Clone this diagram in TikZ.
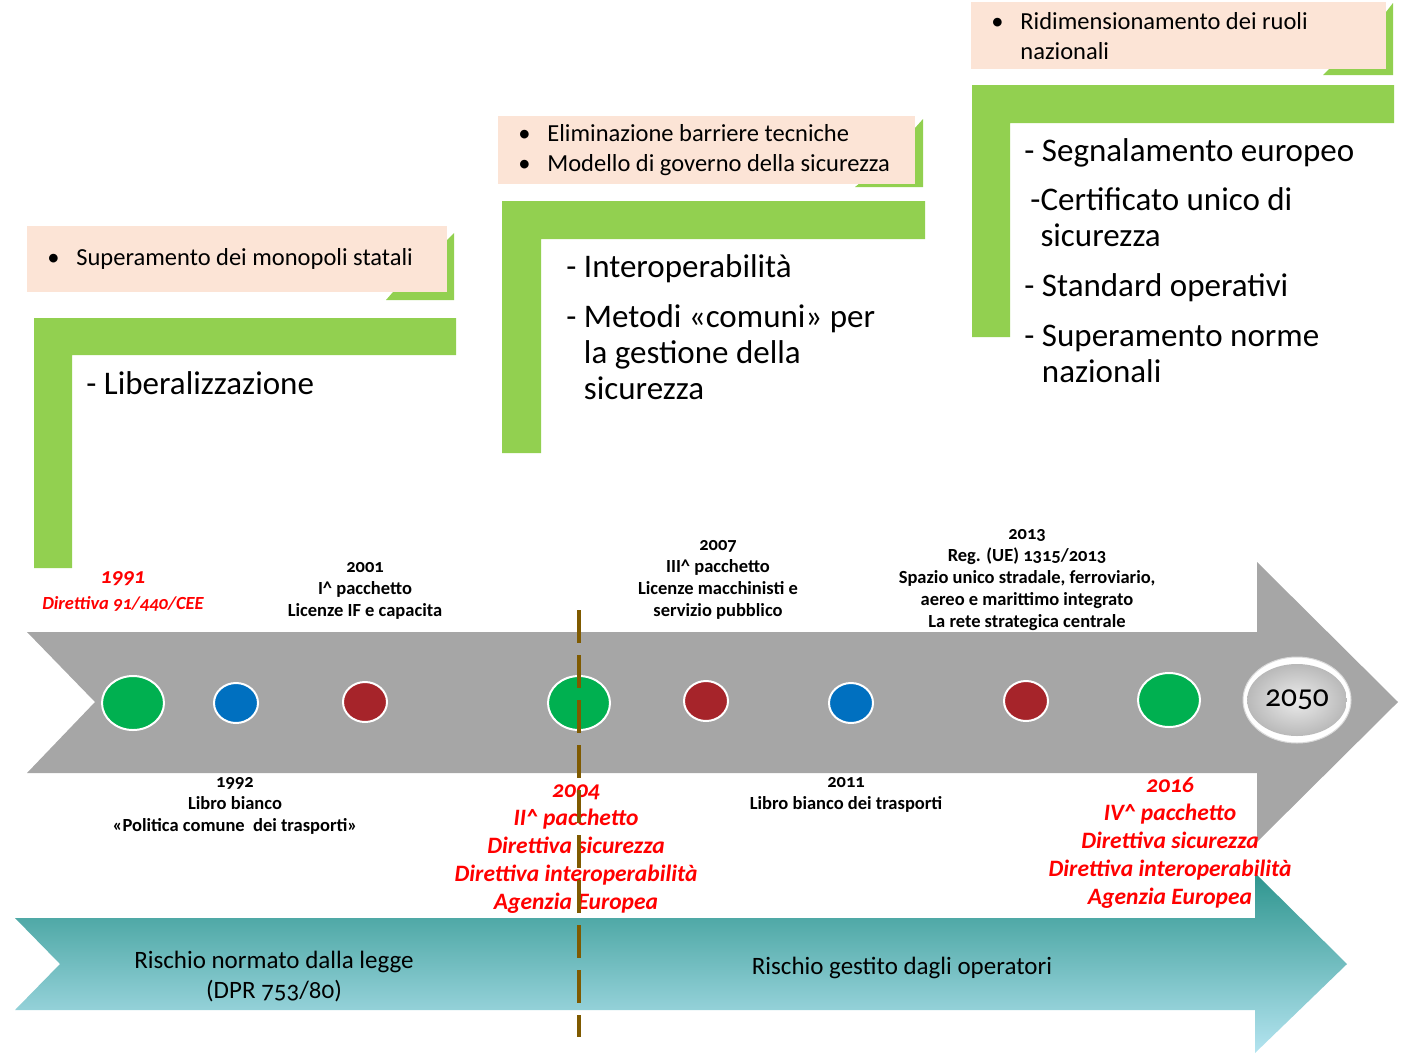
\documentclass[tikz,border=0pt]{standalone}
\usepackage{fontspec}
\setmainfont{Carlito}[Numbers=OldStyle]
\usepackage{tikz}
\usetikzlibrary{positioning,shapes.geometric}
\definecolor{lgreen}{HTML}{92D050}
\definecolor{peach}{HTML}{FCE4D6}
\definecolor{dgreen}{HTML}{00B050}
\definecolor{dblue}{HTML}{0070C0}
\definecolor{dred}{HTML}{A6242A}
\definecolor{tgray}{HTML}{A6A6A6}
\definecolor{tealtop}{HTML}{2E958E}
\definecolor{tealbot}{HTML}{B4E4F0}
\definecolor{dashbrown}{HTML}{7F5A00}
\tikzset{every picture/.style={line width=0.8pt}}
\tikzset{
  milestone/.style={ellipse, draw=white, line width=2pt, inner sep=0pt},
  bigdot/.style={milestone, fill=dgreen, minimum width=62pt, minimum height=54pt},
  smalldot/.style={milestone, minimum width=44pt, minimum height=40pt},
  evt/.style={font=\bfseries\fontsize{18.5}{22}\selectfont, align=center, inner sep=0pt},
  keyevt/.style={font=\bfseries\itshape\fontsize{23.5}{28}\selectfont, text=red, align=center, inner sep=0pt},
  peachbox/.style={fill=peach, anchor=north west, inner sep=0pt},
  boxtxt/.style={anchor=west, inner sep=0pt, align=left, font=\fontsize{24.5}{30}\selectfont},
  bigtxt/.style={anchor=north west, inner sep=0pt, align=left, font=\fontsize{33}{36}\selectfont},
  risk/.style={align=center, inner sep=0pt, font=\fontsize{25}{30}\selectfont}
}
\newcommand{\bul}{\makebox[29pt][l]{\textbullet}}
\begin{document}
\begin{tikzpicture}[x=1pt, y=-1pt]
    \useasboundingbox (0,0) rectangle (1405,1053);

    % green L frames
    \fill[lgreen] (34,318) -- (456,318) -- (456,355) -- (72,355) -- (72,568) -- (34,568) -- cycle;
    \fill[lgreen] (502,201) -- (925,201) -- (925,239) -- (541,239) -- (541,453) -- (502,453) -- cycle;
    \fill[lgreen] (972,85) -- (1394,85) -- (1394,123) -- (1010,123) -- (1010,337) -- (972,337) -- cycle;

    % box shadows
    \fill[lgreen] (454,233) -- (454,300) -- (386,300) -- (393,292) -- (447,292) -- (447,240) -- cycle;
    \fill[lgreen] (923,119) -- (923,187) -- (855,187) -- (860,183) -- (915,183) -- (915,128) -- cycle;
    \fill[lgreen] (1393,3) -- (1393,75) -- (1323,75) -- (1329,69) -- (1386,69) -- (1386,12) -- cycle;

    % bullet boxes
    \node[peachbox, minimum width=420pt, minimum height=66pt] (box1) at (27,226) {};
    \node[peachbox, minimum width=417pt, minimum height=68pt] (box2) at (498,116) {};
    \node[peachbox, minimum width=415pt, minimum height=67pt] (box3) at (971,2) {};
    \node[boxtxt, right=20pt of box1.west] (monopoli) {\bul Superamento dei monopoli statali};
    \node[boxtxt, right=20pt of box2.west] (barriere)
        {\bul Eliminazione barriere tecniche\\ \bul Modello di governo della sicurezza};
    \node[boxtxt, right=20pt of box3.west] (ruoli)
        {\bul Ridimensionamento dei ruoli\\ \hspace*{29pt}nazionali};

    % texts in the frames
    \node[bigtxt] (lib) at (86,371) {- Liberalizzazione};
    \node[bigtxt] (interop) at (566,254)
        {- Interoperabilità\\[14pt]
         - Metodi «comuni» per\\ \phantom{- }la gestione della\\ \phantom{- }sicurezza};
    \node[bigtxt] (segn) at (1024,138)
        {- Segnalamento europeo\\[13pt]
         \hspace*{6pt}-Certificato unico di\\ \hspace*{6pt}\phantom{-}sicurezza\\[14pt]
         - Standard operativi\\[14pt]
         - Superamento norme\\ \phantom{- }nazionali};

    % timeline arrow
    \fill[tgray] (27,632) -- (1257,632) -- (1257,562) -- (1398,702) -- (1257,842)
        -- (1257,773) -- (27,773) -- (95,702) -- cycle;

    % risk arrow
    \shade[top color=tealtop, bottom color=tealbot] (15,918) -- (1255,918) -- (1255,873)
        -- (1347,964) -- (1255,1053) -- (1255,1010) -- (15,1010) -- (60,964) -- cycle;
    \node[risk] (normato) at (274,977) {Rischio normato dalla legge\\(DPR 753/80)};
    \node[risk] (gestito) at (902,968) {Rischio gestito dagli operatori};

    % milestones
    \node[bigdot] (m1991) at (133,703) {};
    \node[smalldot, fill=dblue] (m1992) at (236,703) {};
    \node[smalldot, fill=dred] (m2001) at (365,702) {};
    \node[bigdot] (m2004) at (579,703) {};
    \node[smalldot, fill=dred] (m2007) at (706,701) {};
    \node[smalldot, fill=dblue] (m2011) at (851,703) {};
    \node[smalldot, fill=dred] (m2013) at (1026,701) {};
    \node[bigdot] (m2016) at (1169,700) {};

    % 2050
    \node[ellipse, fill=white, draw=black!15, line width=1pt, minimum width=108pt, minimum height=86pt] (m2050) at (1297,700) {};
    \node[ellipse, inner color=gray!15, outer color=gray!55, minimum width=94pt, minimum height=72pt,
        font=\fontsize{31.5}{32}\selectfont] (y2050) at (1297,700) {2050};

    % events above
    \node[keyevt] (e1991) at (123,591)
        {{\fontsize{22}{22}\selectfont 1991}\\[-2pt]{\fontsize{18.5}{20}\selectfont Direttiva 91/440/CEE}};
    \node[evt] (e2001) at (365,591) {2001\\I\^{} pacchetto\\Licenze IF e capacita};
    \node[evt] (e2007) at (718,580) {2007\\III\^{} pacchetto\\Licenze macchinisti e\\servizio pubblico};
    \node[evt] (e2013) at (1027,580)
        {2013\\Reg. (UE) 1315/2013\\Spazio unico stradale, ferroviario,\\aereo e marittimo integrato\\La rete strategica centrale};

    % events below
    \node[evt] (e1992) at (235,806) {1992\\Libro bianco\\«Politica comune\ \ dei trasporti»};
    \node[evt] (e2011) at (846,795) {2011\\Libro bianco dei trasporti};
    \node[keyevt] (e2004) at (576,849)
        {2004\\II\^{} pacchetto\\Direttiva sicurezza\\Direttiva interoperabilità\\Agenzia Europea};
    \node[keyevt] (e2016) at (1170,843)
        {2016\\IV\^{} pacchetto\\Direttiva sicurezza\\Direttiva interoperabilità\\Agenzia Europea};

    % boundary 2004
    \coordinate (cutTop) at (579,610);
    \coordinate (cutBot) at (579,1037);
    \draw[dashbrown, line width=4pt, dash pattern=on 33pt off 12pt] (cutTop) -- (cutBot);
\end{tikzpicture}
\end{document}
